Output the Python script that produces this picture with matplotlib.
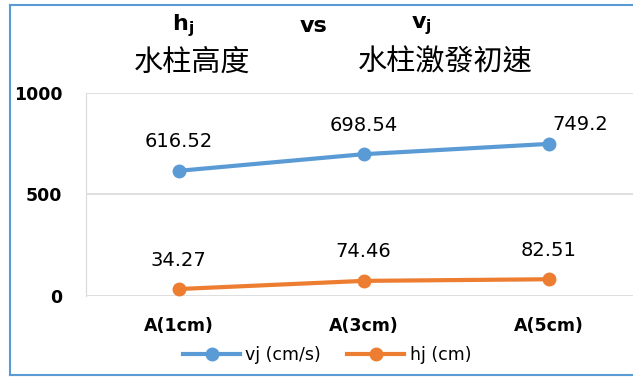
import matplotlib.pyplot as plt
from matplotlib.lines import Line2D

plt.rcParams['font.family'] = ['Noto Sans CJK TC', 'DejaVu Sans']

cats = ["A(1cm)", "A(3cm)", "A(5cm)"]
vj = [616.52, 698.54, 749.2]
hj = [34.27, 74.46, 82.51]
vj_lbl = ["616.52", "698.54", "749.2"]
hj_lbl = ["34.27", "74.46", "82.51"]

blue = "#5B9BD5"
orange = "#ED7D31"

fig = plt.figure(figsize=(6.33, 3.78), dpi=100)
ax = fig.add_axes([86/633, 1-296/378, 555/633, 203/378])

x = range(len(cats))
ax.plot(x, vj, color=blue, lw=3, marker="o", ms=9, label="vj (cm/s)")
ax.plot(x, hj, color=orange, lw=3, marker="o", ms=9, label="hj (cm)")

# data labels
for i in x:
    if i == 2:
        ax.annotate(vj_lbl[i], (i, vj[i]), xytext=(3, 7), textcoords="offset points",
                    ha="left", va="bottom", fontsize=14, family="DejaVu Sans")
    else:
        ax.annotate(vj_lbl[i], (i, vj[i]), xytext=(0, 14), textcoords="offset points",
                    ha="center", va="bottom", fontsize=14, family="DejaVu Sans")
    ax.annotate(hj_lbl[i], (i, hj[i]), xytext=(0, 14), textcoords="offset points",
                ha="center", va="bottom", fontsize=14, family="DejaVu Sans")

ax.set_xlim(-0.5, 2.5)
ax.set_ylim(0, 1000)
ax.set_yticks([0, 500, 1000])
ax.set_xticks(list(x))
ax.set_xticklabels(cats)
ax.tick_params(length=0, labelsize=12.5)
ax.tick_params(axis="x", pad=15)
ax.tick_params(axis="y", pad=17)
for t in ax.get_xticklabels() + ax.get_yticklabels():
    t.set_fontweight("bold")
    t.set_family("DejaVu Sans")
ax.grid(axis="y", color="#D9D9D9", lw=1.2)
for s in ["top", "right", "bottom"]:
    ax.spines[s].set_visible(False)
ax.spines["left"].set_color("#D9D9D9")
ax.set_axisbelow(True)

# title
fig.text(183/633, 1-26/378, "h$_\\mathregular{j}$", ha="center", va="center",
         fontsize=16, fontweight="bold", family="DejaVu Sans")
fig.text(314/633, 1-26/378, "vs", ha="center", va="center",
         fontsize=16, fontweight="bold", family="DejaVu Sans")
fig.text(421/633, 1-26/378, "v$_\\mathregular{j}$", ha="center", va="center",
         fontsize=16, fontweight="bold", family="DejaVu Sans")
fig.text(192/633, 1-63/378, "水柱高度", ha="center", va="center", fontsize=21)
fig.text(445/633, 1-63/378, "水柱激發初速", ha="center", va="center", fontsize=21)

leg = fig.legend(loc="center", bbox_to_anchor=(327/633, 1-355/378), ncol=2,
                 frameon=False, fontsize=12.5, handlelength=3.3, columnspacing=1.5,
                 handletextpad=0.3)
for t in leg.get_texts():
    t.set_family("DejaVu Sans")

# chart border
fig.add_artist(Line2D([10/633, 10/633], [1-5/378, 1-375/378], color=blue, lw=1.5))
fig.add_artist(Line2D([10/633, 1], [1-5/378, 1-5/378], color=blue, lw=1.5))
fig.add_artist(Line2D([10/633, 1], [1-375/378, 1-375/378], color=blue, lw=1.5))

fig.savefig("out.png", dpi=100)
